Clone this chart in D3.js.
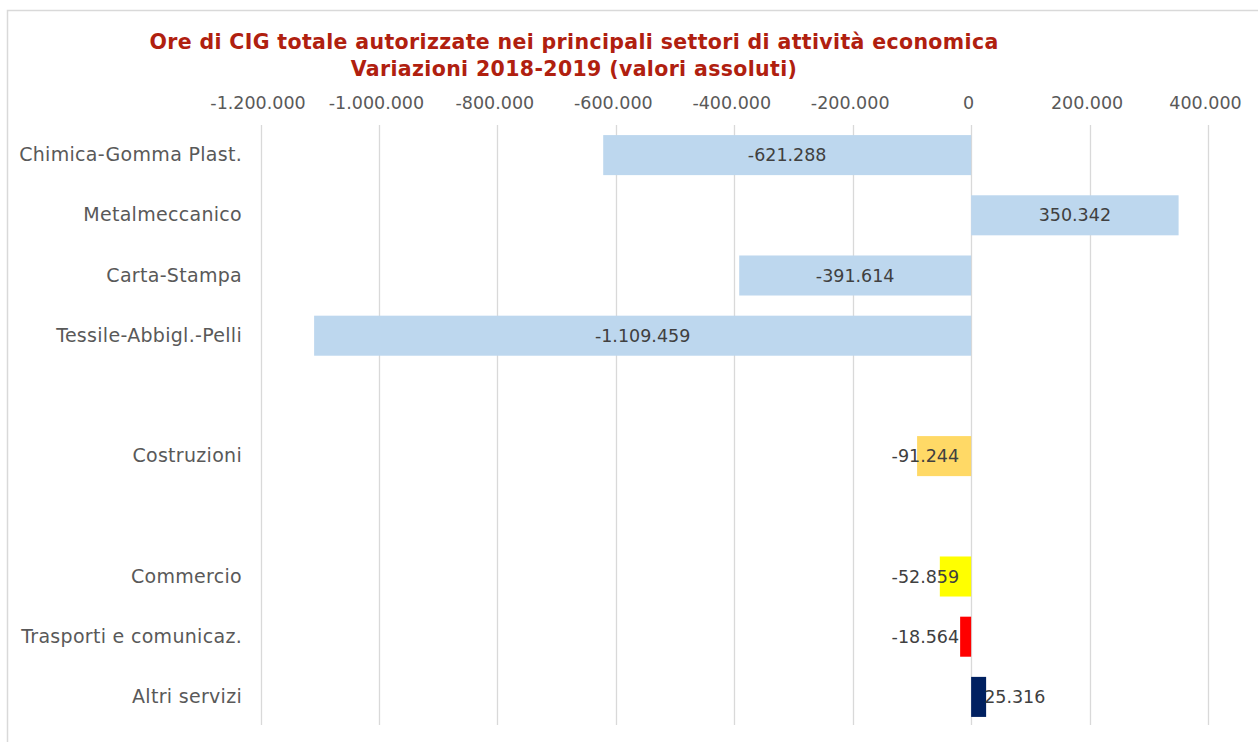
<!DOCTYPE html>
<html><head><meta charset="utf-8">
<script src="https://cdn.jsdelivr.net/npm/d3@7"></script>
<style>body{margin:0;background:#fff}svg{display:block}text{font-family:"DejaVu Sans",Verdana,sans-serif}</style>
</head><body>
<svg id="c" width="1258" height="742"></svg>
<script>
const titleLines = ["Ore di CIG totale autorizzate nei principali settori di attività economica","Variazioni 2018-2019 (valori assoluti)"];
// slots include empty spacer categories
const categories = ["Chimica-Gomma Plast.","Metalmeccanico","Carta-Stampa","Tessile-Abbigl.-Pelli","gap1","Costruzioni","gap2","Commercio","Trasporti e comunicaz.","Altri servizi"];
const values = [-621288, 350342, -391614, -1109459, null, -91244, null, -52859, -18564, 25316];
const colors = ["#bdd7ee","#bdd7ee","#bdd7ee","#bdd7ee",null,"#ffd966",null,"#ffff00","#ff0000","#002060"];
const labelMode = ["center","center","center","center",null,"base",null,"base","base","base"];
const tickValues = [-1200000,-1000000,-800000,-600000,-400000,-200000,0,200000,400000];

const fmt = v => {const s = d3.format(",")(Math.abs(v)).replace(/,/g,"."); return (v<0?"-":"")+s;};
const svg = d3.select("#c");
svg.append("rect").attr("x",7.5).attr("y",10.5).attr("width",1300).attr("height",800)
  .attr("fill","#fff").attr("stroke","#d9d9d9").attr("stroke-width",1.5);

const x = d3.scaleLinear().domain([-1200000,400000]).range([260.5,1208]);
const y = d3.scaleBand().domain(categories).range([125,727]).paddingInner(0.335).paddingOuter(0.1675);

svg.append("g").selectAll("text").data(titleLines).join("text")
  .attr("x",574).attr("y",(d,i)=>49+i*27).attr("text-anchor","middle")
  .attr("font-weight","bold").attr("font-size","20.5px").attr("letter-spacing","0.35px")
  .attr("fill","#b0200f").text(d=>d);

// gridlines
svg.append("g").selectAll("line").data(tickValues).join("line")
  .attr("x1",d=>Math.round(x(d))+0.5).attr("x2",d=>Math.round(x(d))+0.5)
  .attr("y1",125).attr("y2",725).attr("stroke","#d9d9d9").attr("stroke-width",1.3);

// top axis labels
const ax = d3.axisTop(x).tickValues(tickValues).tickFormat(d=>d===0?"0":fmt(d)).tickSize(0).tickPadding(0);
const axg = svg.append("g").attr("transform","translate(-3,109)").call(ax);
axg.select(".domain").remove();
axg.selectAll("text").attr("font-size","17.5px").attr("fill","#595959").attr("font-family","'DejaVu Sans',Verdana,sans-serif").attr("dy",0);

// category labels
const catg = svg.append("g").attr("transform","translate(242,0)")
  .call(d3.axisLeft(y).tickSize(0).tickPadding(0).tickFormat(d=>d.startsWith("gap")?"":d));
catg.select(".domain").remove();
catg.selectAll("text").attr("font-size","19px").attr("letter-spacing","0.3px").attr("fill","#595959").attr("font-family","'DejaVu Sans',Verdana,sans-serif");

const data = categories.map((c,i)=>({c,v:values[i],col:colors[i],mode:labelMode[i]})).filter(d=>d.v!==null);

svg.append("g").selectAll("rect").data(data).join("rect")
  .attr("x",d=>x(Math.min(0,d.v))).attr("width",d=>Math.abs(x(d.v)-x(0)))
  .attr("y",d=>y(d.c)).attr("height",y.bandwidth()).attr("fill",d=>d.col);

svg.append("g").selectAll("text").data(data).join("text")
  .attr("x",d=>d.mode==="center"?(x(d.v)+x(0))/2:(d.v<0?x(0)-12:x(0)+13))
  .attr("y",d=>y(d.c)+y.bandwidth()/2).attr("dy","0.35em")
  .attr("text-anchor",d=>d.mode==="center"?"middle":(d.v<0?"end":"start"))
  .attr("font-size","17.5px").attr("fill","#404040").text(d=>fmt(d.v));
</script>
</body></html>
